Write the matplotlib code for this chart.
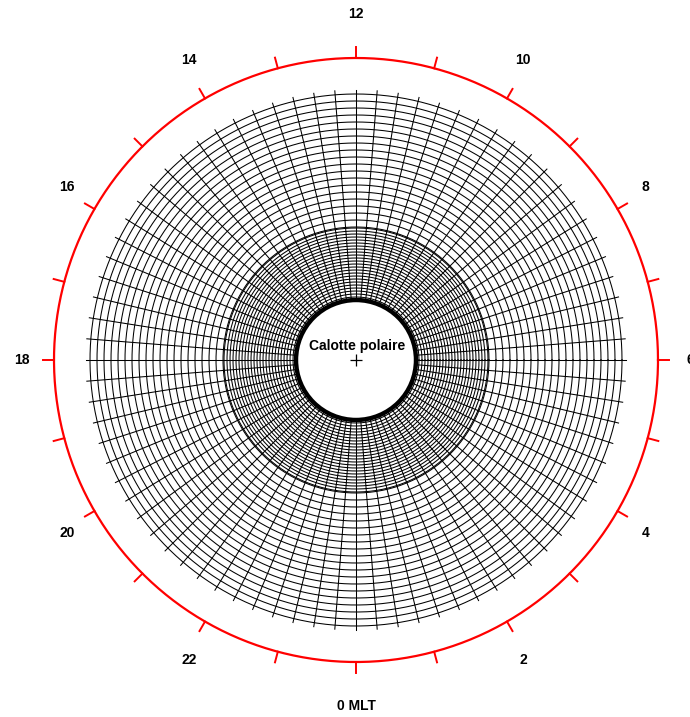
import numpy as np
import matplotlib.pyplot as plt

# hour labels (MLT) around the dial
hour_labels = ["0 MLT", "2", "4", "6", "8", "10", "12", "14", "16", "18", "20", "22"]
label_hours = [0, 2, 4, 6, 8, 10, 12, 14, 16, 18, 20, 22]
tick_hours = list(range(24))

# mesh geometry (pixels)
n_radial = 80
cap_radius = 60
dense_radii = np.arange(60, 134, 3)
outer_radii = np.arange(133, 271, 7)
grid_outer = 270
ring_radius = 302

cx, cy = 356, 360

fig = plt.figure(figsize=(6.9, 7.17), dpi=100)
ax = fig.add_axes([0, 0, 1, 1])
ax.set_xlim(0, 690)
ax.set_ylim(717, 0)
ax.set_aspect('equal')
ax.axis('off')

t = np.linspace(0, 2*np.pi, 400)

# concentric circles
for r in list(dense_radii) + list(outer_radii):
    ax.plot(cx + r*np.cos(t), cy - r*np.sin(t), color='k', lw=0.75)

# radial lines
for i in range(n_radial):
    a = 2*np.pi*i/n_radial
    ax.plot([cx + cap_radius*np.cos(a), cx + grid_outer*np.cos(a)],
            [cy - cap_radius*np.sin(a), cy - grid_outer*np.sin(a)], color='k', lw=0.75)

# polar cap
cap = plt.Circle((cx, cy), cap_radius, facecolor='white', edgecolor='k', lw=3.2, zorder=3)
ax.add_patch(cap)
ax.text(cx+1, cy-14, "Calotte polaire", ha='center', va='center', fontsize=10,
        fontweight='bold', family='Liberation Sans', zorder=4)
ax.plot(cx, cy, marker='+', color='k', ms=9, mew=0.9, zorder=4)

# red outer ring with hour ticks
ax.plot(cx + ring_radius*np.cos(t), cy - ring_radius*np.sin(t), color='red', lw=1.6)
for h in tick_hours:
    a = np.deg2rad((h - 6)*15)
    ax.plot([cx + ring_radius*np.cos(a), cx + (ring_radius+11)*np.cos(a)],
            [cy - ring_radius*np.sin(a), cy - (ring_radius+11)*np.sin(a)], color='red', lw=1.4)

for h, lab in zip(label_hours, hour_labels):
    a = np.deg2rad((h - 6)*15)
    ax.text(cx + 334*np.cos(a), cy - 346*np.sin(a), lab, ha='center', va='center',
            fontsize=10, fontweight='bold', family='Liberation Sans')

fig.savefig("out.png", dpi=100)
